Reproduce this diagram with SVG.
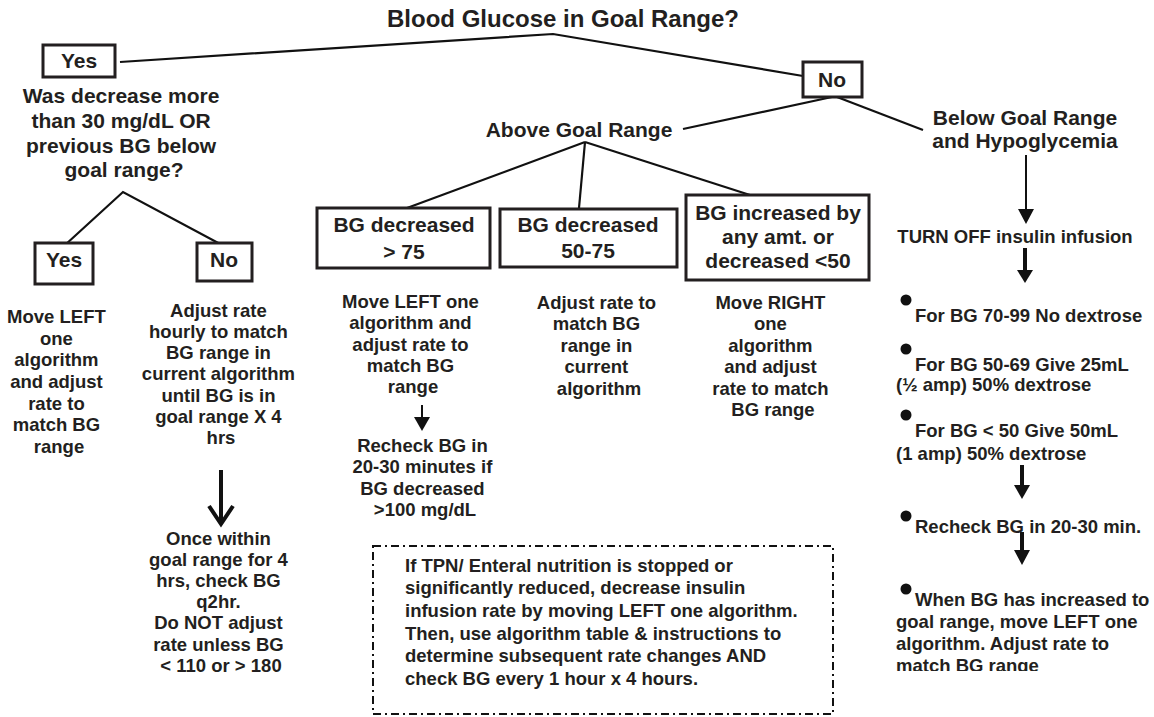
<svg xmlns="http://www.w3.org/2000/svg" width="1154" height="717" viewBox="0 0 1154 717">
<style>
.t{font-family:"Liberation Sans",Arial,Helvetica,sans-serif;font-weight:bold;fill:#231f20;text-anchor:middle}
.l{text-anchor:start}
.h{font-size:21px}
.s{font-size:18.5px}
.box{fill:#fff;stroke:#231f20;stroke-width:3}
.ln{stroke:#111;stroke-width:2.2;fill:none}
.thin{stroke:#111;stroke-width:2;fill:none}
.thick{stroke:#111;stroke-width:4;fill:none}
.head{fill:#111}
.dash{fill:none;stroke:#111;stroke-width:2;stroke-dasharray:8 4 2 4}
</style>
<defs>
<clipPath id="clipLast"><rect x="880" y="580" width="274" height="91"/></clipPath>
</defs>
<rect width="1154" height="717" fill="#fff"/>

<g id="connectors">
<polyline class="ln" points="120,62 553,34 803,76"/>
<line class="ln" x1="683" y1="129" x2="832" y2="97"/>
<line class="ln" x1="837" y1="97" x2="923" y2="130"/>
<polyline class="ln" points="65,245 123,192 222,245"/>
<line class="ln" x1="585" y1="142" x2="407" y2="208"/>
<line class="ln" x1="585" y1="142" x2="579" y2="208"/>
<line class="ln" x1="585" y1="142" x2="750" y2="195"/>
<line class="thin" x1="1026" y1="155" x2="1026" y2="210"/>
<polygon class="head" points="1018,209 1034,209 1026,224"/>
<line class="thick" x1="1025" y1="248" x2="1025" y2="271"/>
<polygon class="head" points="1017,270 1033,270 1025,283"/>
<line class="thick" x1="1022" y1="465" x2="1022" y2="486"/>
<polygon class="head" points="1014,485 1030,485 1022,499"/>
<line class="thick" x1="1022" y1="532" x2="1022" y2="551"/>
<polygon class="head" points="1014,550 1030,550 1022,565"/>
<line class="thin" x1="422" y1="405" x2="422" y2="418"/>
<polygon class="head" points="414,417 430,417 422,431"/>
<line class="thick" x1="221" y1="470" x2="221" y2="523"/>
<polyline class="thick" points="209,506 221,524 233,506"/>
</g>

<g id="title"><text class="t" x="563" y="27" style="font-size:24px">Blood Glucose in Goal Range?</text></g>

<g id="yes-top"><rect class="box" x="43" y="45" width="72" height="32"/><text class="t h" x="79" y="68">Yes</text></g>
<g id="no-top"><rect class="box" x="803" y="62" width="59" height="35"/><text class="t h" x="832" y="87">No</text></g>

<g id="question"><text class="t h" x="124">
<tspan x="124" y="103">Was decrease more</tspan>
<tspan x="124" y="128">than 30 mg/dL OR</tspan>
<tspan x="124" y="153">previous BG below</tspan>
<tspan x="124" y="177">goal range?</tspan></text></g>

<g id="above"><text class="t h" x="579" y="137">Above Goal Range</text></g>
<g id="below"><text class="t h" x="1025"><tspan x="1025" y="125">Below Goal Range</tspan><tspan x="1025" y="148">and Hypoglycemia</tspan></text></g>

<g id="yes-2"><rect class="box" x="35" y="243" width="58" height="41"/><text class="t h" x="64" y="267">Yes</text></g>
<g id="no-2"><rect class="box" x="197" y="243" width="55" height="38"/><text class="t h" x="224" y="267">No</text></g>

<g id="yes-text"><text class="t s">
<tspan x="59" y="323">Move LEFT</tspan>
<tspan x="59" y="345">one</tspan>
<tspan x="59" y="366">algorithm</tspan>
<tspan x="59" y="388">and adjust</tspan>
<tspan x="59" y="410">rate to</tspan>
<tspan x="59" y="431">match BG</tspan>
<tspan x="59" y="453">range</tspan></text></g>

<g id="no-text"><text class="t s">
<tspan x="221" y="317">Adjust rate</tspan>
<tspan x="221" y="338">hourly to match</tspan>
<tspan x="221" y="359">BG range in</tspan>
<tspan x="221" y="380">current algorithm</tspan>
<tspan x="221" y="402">until BG is in</tspan>
<tspan x="221" y="423">goal range X 4</tspan>
<tspan x="221" y="444">hrs</tspan></text></g>

<g id="once-text"><text class="t s">
<tspan x="221" y="545">Once within</tspan>
<tspan x="221" y="566">goal range for 4</tspan>
<tspan x="221" y="587">hrs, check BG</tspan>
<tspan x="221" y="608">q2hr.</tspan>
<tspan x="221" y="629">Do NOT adjust</tspan>
<tspan x="221" y="651">rate unless BG</tspan>
<tspan x="221" y="672">&lt; 110 or &gt; 180</tspan></text></g>

<g id="box-dec75"><rect class="box" x="317" y="208" width="173" height="60"/><text class="t h"><tspan x="404" y="232">BG decreased</tspan><tspan x="404" y="259">&gt; 75</tspan></text></g>
<g id="box-dec50"><rect class="box" x="500" y="209" width="177" height="58"/><text class="t h"><tspan x="588" y="232">BG decreased</tspan><tspan x="588" y="258">50-75</tspan></text></g>
<g id="box-inc"><rect class="box" x="686" y="195" width="183" height="85"/><text class="t h"><tspan x="778" y="220">BG increased by</tspan><tspan x="778" y="244">any amt. or</tspan><tspan x="778" y="268">decreased &lt;50</tspan></text></g>

<g id="dec75-text"><text class="t s">
<tspan x="413" y="308">Move LEFT one</tspan>
<tspan x="413" y="329">algorithm and</tspan>
<tspan x="413" y="351">adjust rate to</tspan>
<tspan x="413" y="372">match BG</tspan>
<tspan x="413" y="393">range</tspan></text></g>

<g id="recheck-text"><text class="t s">
<tspan x="425" y="452">Recheck BG in</tspan>
<tspan x="425" y="473">20-30 minutes if</tspan>
<tspan x="425" y="495">BG decreased</tspan>
<tspan x="425" y="516">&gt;100 mg/dL</tspan></text></g>

<g id="dec50-text"><text class="t s">
<tspan x="599" y="309">Adjust rate to</tspan>
<tspan x="599" y="330">match BG</tspan>
<tspan x="599" y="352">range in</tspan>
<tspan x="599" y="373">current</tspan>
<tspan x="599" y="395">algorithm</tspan></text></g>

<g id="inc-text"><text class="t s">
<tspan x="773" y="309">Move RIGHT</tspan>
<tspan x="773" y="330">one</tspan>
<tspan x="773" y="352">algorithm</tspan>
<tspan x="773" y="373">and adjust</tspan>
<tspan x="773" y="395">rate to match</tspan>
<tspan x="773" y="416">BG range</tspan></text></g>

<g id="turn-off"><text class="t s" x="1015" y="243">TURN OFF insulin infusion</text></g>

<g id="hypo-steps">
<circle class="head" cx="906" cy="300" r="5.5"/>
<text class="t s l" x="915" y="322">For BG 70-99 No dextrose</text>
<circle class="head" cx="906" cy="349" r="5.5"/>
<text class="t s l"><tspan x="915" y="371">For BG 50-69 Give 25mL</tspan><tspan x="896" y="391">(½ amp) 50% dextrose</tspan></text>
<circle class="head" cx="906" cy="415" r="5.5"/>
<text class="t s l"><tspan x="915" y="437">For BG &lt; 50 Give 50mL</tspan><tspan x="896" y="460">(1 amp) 50% dextrose</tspan></text>
<circle class="head" cx="906" cy="516" r="5.5"/>
<text class="t s l" x="915" y="533">Recheck BG in 20-30 min.</text>
<circle class="head" cx="906" cy="589" r="5.5"/>
<text class="t s l" clip-path="url(#clipLast)"><tspan x="915" y="606">When BG has increased to</tspan><tspan x="896" y="628">goal range, move LEFT one</tspan><tspan x="896" y="650">algorithm. Adjust rate to</tspan><tspan x="896" y="672">match BG range</tspan></text>
</g>

<g id="note">
<rect class="dash" x="373" y="546" width="460" height="168"/>
<text class="t s l">
<tspan x="405" y="572">If TPN/ Enteral nutrition is stopped or</tspan>
<tspan x="405" y="594">significantly reduced, decrease insulin</tspan>
<tspan x="405" y="617">infusion rate by moving LEFT one algorithm.</tspan>
<tspan x="405" y="640">Then, use algorithm table &amp; instructions to</tspan>
<tspan x="405" y="662">determine subsequent rate changes AND</tspan>
<tspan x="405" y="685">check BG every 1 hour x 4 hours.</tspan></text>
</g>
</svg>
